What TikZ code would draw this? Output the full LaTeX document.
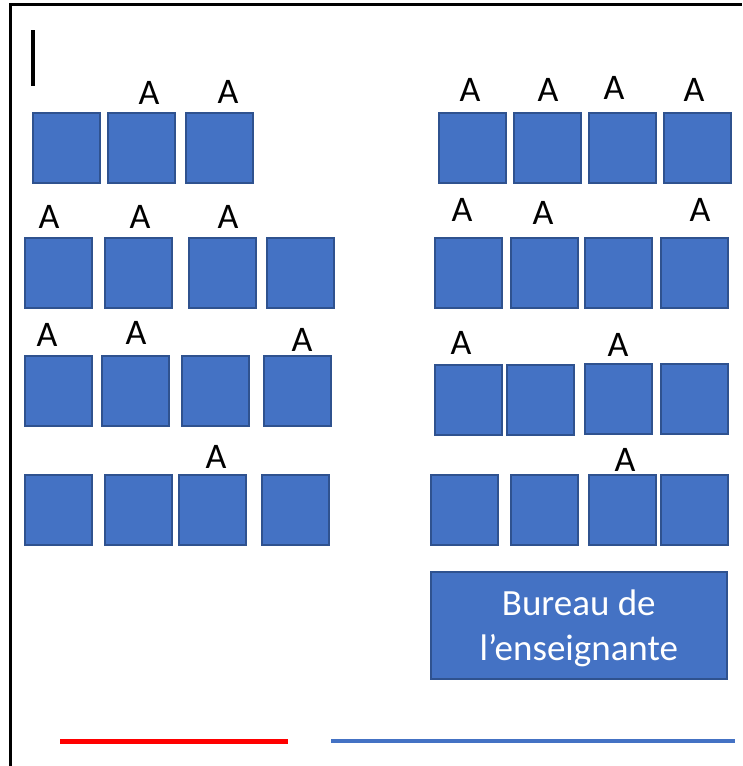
\documentclass[tikz,border=0pt]{standalone}
\usepackage{fontspec}
\setmainfont{Carlito}
\definecolor{deskfill}{HTML}{4472C4}
\definecolor{deskline}{HTML}{2F528F}
\definecolor{redline}{HTML}{FF0000}
\tikzset{
  desk/.style={draw=deskline, fill=deskfill, line width=1.5pt, anchor=north west,
    minimum width=67pt, minimum height=70pt, inner sep=0pt},
  lbl/.style={inner sep=0pt, font=\fontsize{36}{36}\selectfont, anchor=center},
  bureau/.style={draw=deskline, fill=deskfill, line width=1.5pt, anchor=north west,
    minimum width=296pt, minimum height=107pt, inner sep=0pt},
}
\begin{document}
\begin{tikzpicture}[x=1pt,y=-1pt]
\useasboundingbox (0,0) rectangle (742,766);
% frame
\draw[line width=2.5pt] (10.5,766) -- (10.5,4.3) -- (742,4.3);
% black bar
\draw[line width=3.5pt] (33,30) -- (33,86);
% left block
\node[desk] (l11) at (32,112) {};
\node[desk] (l12) at (107,112) {};
\node[desk] (l13) at (185,112) {};
\node[desk] (l21) at (24,237) {};
\node[desk] (l22) at (104,237) {};
\node[desk] (l23) at (188,237) {};
\node[desk] (l24) at (266,237) {};
\node[desk] (l31) at (24,355) {};
\node[desk] (l32) at (101,355) {};
\node[desk] (l33) at (181,355) {};
\node[desk] (l34) at (263,355) {};
\node[desk] (l41) at (24,474) {};
\node[desk] (l42) at (104,474) {};
\node[desk] (l43) at (178,474) {};
\node[desk] (l44) at (261,474) {};
% right block
\node[desk] (r11) at (438,112) {};
\node[desk] (r12) at (513,112) {};
\node[desk] (r13) at (588,112) {};
\node[desk] (r14) at (663,112) {};
\node[desk] (r21) at (434,237) {};
\node[desk] (r22) at (510,237) {};
\node[desk] (r23) at (584,237) {};
\node[desk] (r24) at (660,237) {};
\node[desk] (r31) at (434,364) {};
\node[desk] (r32) at (506,364) {};
\node[desk] (r33) at (584,363) {};
\node[desk] (r34) at (660,363) {};
\node[desk] (r41) at (430,474) {};
\node[desk] (r42) at (510,474) {};
\node[desk] (r43) at (588,474) {};
\node[desk] (r44) at (660,474) {};
% labels
\node[lbl] (al1a) at (149,93) {A};
\node[lbl] (al1b) at (228,92) {A};
\node[lbl] (al2a) at (49,217) {A};
\node[lbl] (al2b) at (140,217) {A};
\node[lbl] (al2c) at (228,217) {A};
\node[lbl] (al3a) at (47,335) {A};
\node[lbl] (al3b) at (136,333) {A};
\node[lbl] (al3c) at (302,340) {A};
\node[lbl] (al4a) at (216,457) {A};
\node[lbl] (ar1a) at (470,90) {A};
\node[lbl] (ar1b) at (548,90) {A};
\node[lbl] (ar1c) at (614,88) {A};
\node[lbl] (ar1d) at (694,90) {A};
\node[lbl] (ar2a) at (462,210) {A};
\node[lbl] (ar2b) at (543,213) {A};
\node[lbl] (ar2c) at (700,210) {A};
\node[lbl] (ar3a) at (461,343) {A};
\node[lbl] (ar3b) at (618,345) {A};
\node[lbl] (ar4a) at (625,460) {A};
% teacher desk
\node[bureau] (bureau) at (430,571) {};
\node[text=white, align=center, font=\fontsize{37}{45}\selectfont, inner sep=0pt]
  (bureautext) at ([yshift=-3pt]bureau.center) {Bureau de\\l’enseignante};
% bottom lines
\draw[redline, line width=4.5pt] (60,741.5) -- (288,741.5);
\draw[deskfill, line width=3.5pt] (331,741) -- (735,741);
\end{tikzpicture}
\end{document}
